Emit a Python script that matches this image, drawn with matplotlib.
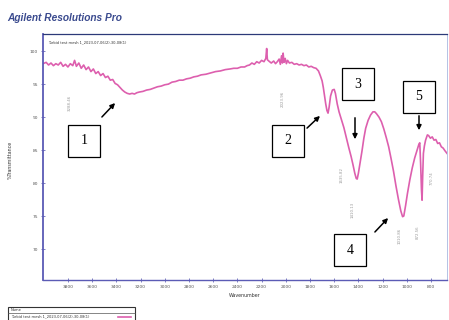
#!/usr/bin/env python3

import matplotlib
matplotlib.use('Agg')
import matplotlib.pyplot as plt
from matplotlib.patches import Rectangle

#-----------
# DATA
#-----------
WAVENUMBER = [
  4006, 3980, 3960, 3940, 3920, 3900, 3880, 3860, 3840, 3820, 3800, 3780, 3760, 3745, 3730,
  3710, 3690, 3670, 3650, 3630, 3610, 3590, 3570, 3550, 3530, 3510, 3490, 3470, 3450, 3430,
  3410, 3390, 3370, 3350, 3330, 3310, 3290, 3270, 3250, 3230, 3210, 3180, 3150, 3120, 3090,
  3060, 3030, 3000, 2970, 2940, 2910, 2880, 2850, 2820, 2790, 2760, 2730, 2700, 2660, 2620,
  2580, 2540, 2500, 2460, 2430, 2400, 2370, 2340, 2320, 2300, 2280, 2260, 2240, 2220, 2200,
  2180, 2165, 2158, 2152, 2140, 2120, 2100, 2085, 2070, 2055, 2045, 2035, 2028, 2022, 2015,
  2005, 1995, 1985, 1970, 1950, 1930, 1910, 1890, 1870, 1850, 1830, 1810, 1790, 1770, 1750,
  1730, 1715, 1700, 1690, 1680, 1670, 1660, 1651, 1642, 1630, 1615, 1600, 1590, 1575, 1560,
  1540, 1520, 1500, 1480, 1460, 1445, 1430, 1418, 1410, 1400, 1385, 1370, 1355, 1340, 1320,
  1300, 1280, 1265, 1250, 1230, 1210, 1190, 1170, 1150, 1130, 1110, 1090, 1070, 1050, 1035,
  1025, 1010, 995, 975, 955, 935, 915, 900, 893, 886, 879, 874, 869, 863, 855,
  845, 830, 820, 805, 790, 775, 760, 745, 730, 715, 700, 685, 668,
]
TRANSMITTANCE = [
  98.1, 98.3, 97.9, 98.2, 97.8, 98.1, 97.9, 98.3, 97.7, 98.0, 97.6, 98.1, 97.8, 98.6, 97.7,
  98.2, 97.4, 97.9, 97.2, 97.6, 96.9, 97.3, 96.6, 96.9, 96.3, 96.6, 96.0, 96.2, 95.6, 95.7,
  95.1, 94.9, 94.5, 94.1, 93.8, 93.6, 93.5, 93.6, 93.5, 93.7, 93.8, 93.9, 94.1, 94.2, 94.4,
  94.6, 94.7, 94.9, 95.0, 95.3, 95.4, 95.6, 95.6, 95.8, 95.9, 96.1, 96.2, 96.4, 96.5, 96.7,
  96.9, 97.0, 97.2, 97.3, 97.4, 97.4, 97.6, 97.6, 97.8, 97.9, 98.2, 98.0, 98.4, 98.2, 98.6,
  98.4, 98.9, 100.4, 98.7, 98.5, 98.2, 98.5, 98.1, 98.4, 98.8, 98.0, 99.3, 98.2, 99.7, 98.3,
  98.9, 98.1, 98.6, 98.2, 98.3, 98.0, 98.1, 97.9, 98.0, 97.8, 97.9, 97.6, 97.7, 97.5, 97.4,
  97.0, 96.3, 95.5, 94.5, 93.2, 92.0, 91.0, 90.6, 91.5, 93.2, 94.1, 94.2, 93.6, 92.0, 90.8,
  89.6, 88.4, 86.9, 85.4, 84.0, 82.8, 81.5, 80.7, 80.6, 81.5, 83.2, 84.9, 86.8, 88.3, 89.5,
  90.3, 90.8, 90.8, 90.5, 90.0, 89.3, 88.2, 86.9, 85.5, 83.7, 81.8, 79.6, 77.6, 75.8, 74.9,
  75.0, 76.6, 78.4, 80.5, 82.3, 83.8, 85.0, 85.9, 86.1, 83.0, 79.0, 77.4, 81.0, 84.5, 85.6,
  86.5, 87.3, 87.2, 86.8, 87.0, 86.5, 86.6, 86.0, 86.1, 85.5, 85.3, 84.9, 84.5,
]

X_TICKS = [3800, 3600, 3400, 3200, 3000, 2800, 2600, 2400, 2200, 2000, 1800, 1600, 1400, 1200, 1000, 800]
Y_TICKS = [70, 75, 80, 85, 90, 95, 100]

# peak-pick labels and where the software printed them (wavenumber, %T)
PEAK_LABELS = ['3288.46', '2023.96', '1635.82', '1410.13', '1010.86', '872.56', '770.74']
PEAK_TEXT_X = [3783, 2023, 1536, 1445, 1056, 907, 792]
PEAK_TEXT_Y = [92.1, 92.7, 81.2, 75.9, 72.0, 72.6, 80.8]

# numbered call-outs: label, box (left, top) px, arrow start px, arrow end px
CALLOUTS = ['1', '2', '3', '4', '5']
BOX_XY = [(68, 125), (272, 125), (342, 68), (334, 234), (403, 81)]
ARROW_FROM = [(100, 119), (305, 130), (355, 115), (373, 234), (419, 113)]
ARROW_TO = [(117, 101), (322, 114), (355, 142), (390, 216), (419, 133)]

SAMPLE_NAME = 'Turbid test mesh 1_2023-07-06(2)-30-08(1)'

#-----------
# HELPERS
#-----------
W, H = 449, 320

def _px(x, y):
  # pixel (from top-left) -> figure fraction
  return x / W, 1 - y / H

#-----------
# PLOT
#-----------
fig = plt.figure(figsize=(W / 100, H / 100), dpi=100)
fig.patch.set_facecolor('white')

ax = fig.add_axes([43 / W, 1 - 280 / H, (447 - 43) / W, (280 - 34) / H])
ax.plot(WAVENUMBER, TRANSMITTANCE, color='#dd5fae', lw=1.2)
ax.set_xlim(4006, 668)
ax.set_ylim(65.3, 102.6)

ax.set_xticks(X_TICKS)
ax.set_xticklabels([str(t) for t in X_TICKS])
ax.set_yticks(Y_TICKS)
ax.tick_params(labelsize=3.2, labelcolor='#555555', color='#6a6ab8', direction='inout',
  length=3, width=0.6, pad=2)

ax.spines['left'].set_color('#5b5bb5')
ax.spines['left'].set_linewidth(1.3)
ax.spines['bottom'].set_color('#5b5bb5')
ax.spines['bottom'].set_linewidth(1.0)
ax.spines['bottom'].set_linestyle((0, (4, 1)))
ax.spines['top'].set_color('#2c3a78')
ax.spines['top'].set_linewidth(0.9)
ax.spines['right'].set_color('#a8b8e0')
ax.spines['right'].set_linewidth(0.6)

ax.text(0.012, 0.975, SAMPLE_NAME, transform=ax.transAxes, fontsize=2.6, color='#333333', va='top')

for lab, tx, ty in zip(PEAK_LABELS, PEAK_TEXT_X, PEAK_TEXT_Y):
  ax.text(tx, ty, lab, rotation=90, fontsize=2.8, color='#9a9a9a', ha='center', va='center')

ax.set_xlabel('Wavenumber', fontsize=3.4, color='#333333', labelpad=3)
fig.text(*_px(10, 160), '%Transmittance', rotation=90, fontsize=3.4, color='#333333',
  ha='center', va='center')

# header
fig.text(*_px(7, 18), 'Agilent Resolutions Pro', fontsize=7.3, fontweight='bold', fontstyle='italic',
  family='Liberation Sans', color='#3a4a8e', va='center')

# numbered call-outs with arrows
for lab, (bx, by), a0, a1 in zip(CALLOUTS, BOX_XY, ARROW_FROM, ARROW_TO):
  x0, y0 = _px(bx, by + 32)
  fig.add_artist(Rectangle((x0, y0), 32 / W, 32 / H, transform=fig.transFigure,
    facecolor='white', edgecolor='black', lw=0.9))
  fig.text(*_px(bx + 16, by + 16), lab, fontsize=10, family='Liberation Serif',
    ha='center', va='center')
  fig.add_artist(matplotlib.patches.FancyArrowPatch(_px(*a0), _px(*a1), transform=fig.transFigure,
    arrowstyle='-|>', mutation_scale=7, color='black', lw=1.1))

# legend table at the bottom
fig.add_artist(Rectangle(_px(8, 322), 127 / W, 15 / H, transform=fig.transFigure,
  facecolor='white', edgecolor='#333333', lw=0.8))
fig.add_artist(matplotlib.lines.Line2D([8 / W, 135 / W], [1 - 313 / H] * 2,
  transform=fig.transFigure, color='#555555', lw=0.5))
fig.text(*_px(11, 310), 'Name', fontsize=2.6, color='#333333', va='center')
fig.text(*_px(11, 316.5), SAMPLE_NAME, fontsize=2.6, color='#333333', va='center')
fig.add_artist(matplotlib.lines.Line2D([118 / W, 131 / W], [1 - 316.5 / H] * 2,
  transform=fig.transFigure, color='#dd5fae', lw=1.2))

fig.savefig('out.png', dpi=100)
